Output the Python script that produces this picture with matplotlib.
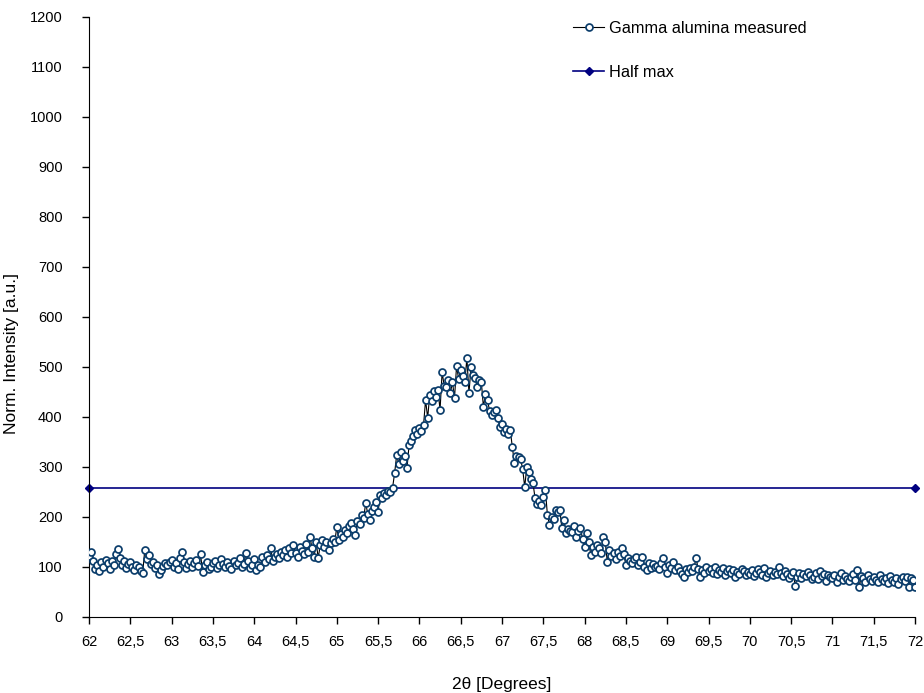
import matplotlib
matplotlib.use("Agg")
import numpy as np
import matplotlib.pyplot as plt

plt.rcParams.update({"font.family": ["Liberation Sans", "DejaVu Sans"], "font.size": 10})
TICK_FONT = ["Liberation Sans Narrow", "Liberation Sans", "DejaVu Sans"]

# scan grid: 62.000 .. 72.000 deg, step 0.025
start_2theta = 62.0
step_2theta = 0.025

intensity = [
    122, 130, 112, 96, 104, 92, 110, 100, 114, 108, 96, 112, 104, 126, 136, 118, 104, 112, 98, 106,
    110, 100, 94, 104, 100, 92, 88, 134, 116, 124, 106, 110, 98, 104, 86, 94, 102, 108, 104, 110,
    114, 100, 108, 96, 118, 130, 110, 98, 106, 112, 100, 108, 114, 102, 126, 90, 104, 110, 96, 100,
    108, 112, 98, 104, 116, 106, 100, 110, 102, 96, 112, 104, 108, 118, 100, 106, 128, 112, 98, 104,
    116, 94, 104, 100, 120, 110, 124, 116, 138, 112, 120, 126, 118, 130, 124, 134, 120, 138, 128, 144,
    128, 120, 140, 132, 126, 146, 130, 160, 138, 120, 150, 118, 144, 154, 140, 150, 134, 148, 156, 150,
    180, 154, 166, 160, 174, 168, 182, 188, 176, 164, 192, 186, 204, 198, 228, 206, 194, 212, 220, 230,
    210, 244, 238, 248, 244, 252, 250, 258, 288, 324, 306, 330, 312, 322, 298, 344, 352, 362, 374, 366,
    378, 372, 384, 434, 398, 444, 432, 452, 440, 454, 414, 490, 462, 460, 474, 448, 470, 438, 502, 476,
    494, 482, 470, 518, 448, 500, 484, 478, 460, 474, 470, 420, 446, 434, 412, 404, 410, 414, 398, 380,
    386, 370, 376, 366, 374, 340, 308, 322, 320, 316, 296, 260, 300, 290, 276, 268, 238, 226, 232, 224,
    240, 254, 204, 184, 200, 196, 214, 210, 214, 178, 194, 168, 176, 172, 170, 182, 160, 172, 178, 156,
    140, 168, 150, 124, 140, 130, 144, 138, 128, 160, 150, 110, 134, 122, 128, 116, 130, 122, 138, 126,
    104, 118, 112, 108, 116, 120, 104, 110, 120, 100, 94, 108, 98, 106, 100, 102, 96, 108, 118, 100,
    88, 104, 98, 110, 94, 100, 92, 86, 80, 96, 90, 98, 92, 100, 118, 96, 80, 94, 88, 100,
    92, 96, 88, 100, 86, 94, 90, 98, 84, 92, 96, 88, 94, 80, 90, 86, 96, 92, 84, 90,
    86, 94, 82, 88, 96, 90, 84, 98, 80, 88, 92, 84, 90, 86, 100, 88, 82, 92, 86, 78,
    84, 90, 62, 80, 88, 78, 86, 82, 90, 84, 76, 80, 88, 76, 92, 82, 86, 72, 84, 80,
    78, 84, 70, 80, 88, 74, 82, 76, 72, 80, 86, 74, 94, 60, 82, 78, 70, 84, 76, 72,
    80, 74, 70, 84, 76, 72, 78, 68, 82, 74, 70, 78, 66, 76, 80, 72, 80, 60, 78, 74,
    60,
]
two_theta = np.round(start_2theta + step_2theta * np.arange(len(intensity)), 3)

half_max = 258
half_max_x = [62, 72]

fig = plt.figure(figsize=(9.24, 6.93), dpi=100)
ax = fig.add_axes([89 / 924, 76 / 693, 826 / 924, 600 / 693])

ax.plot(two_theta, intensity, color="black", lw=0.8, marker="o", ms=5.0,
        mfc="white", mec="#0b3d6b", mew=1.25, label="Gamma alumina measured", zorder=3)
ax.plot(half_max_x, [half_max, half_max], color="#000080", lw=1.2, marker="D",
        ms=4.5, mfc="#000080", mec="#000080", label="Half max", zorder=2, clip_on=False)

ax.set_xlim(62, 72)
ax.set_ylim(0, 1200)
xt = np.arange(62, 72.01, 0.5)
ax.set_xticks(xt)
ax.set_xticklabels([f"{v:g}".replace(".", ",") for v in xt])
ax.set_yticks(np.arange(0, 1201, 100))
for s in ("top", "right"):
    ax.spines[s].set_visible(False)
ax.tick_params(direction="out", length=5, width=1, labelsize=10.5)
ax.tick_params(axis="x", pad=8)
ax.tick_params(axis="y", pad=14)
for lab in ax.get_xticklabels() + ax.get_yticklabels():
    lab.set_family(TICK_FONT)

ax.set_xlabel("2θ [Degrees]", fontsize=12.5, labelpad=20)
ax.set_ylabel("Norm. Intensity [a.u.]", fontsize=12.5)
ax.yaxis.set_label_coords(-0.085, 0.44)

fig.legend(loc="upper left", bbox_to_anchor=(573 / 924, 1 - 21 / 693), frameon=False,
           fontsize=11.8, handlelength=1.9, handletextpad=0.3, labelspacing=1.75,
           borderpad=0, borderaxespad=0)

fig.savefig("out.png", dpi=100)
